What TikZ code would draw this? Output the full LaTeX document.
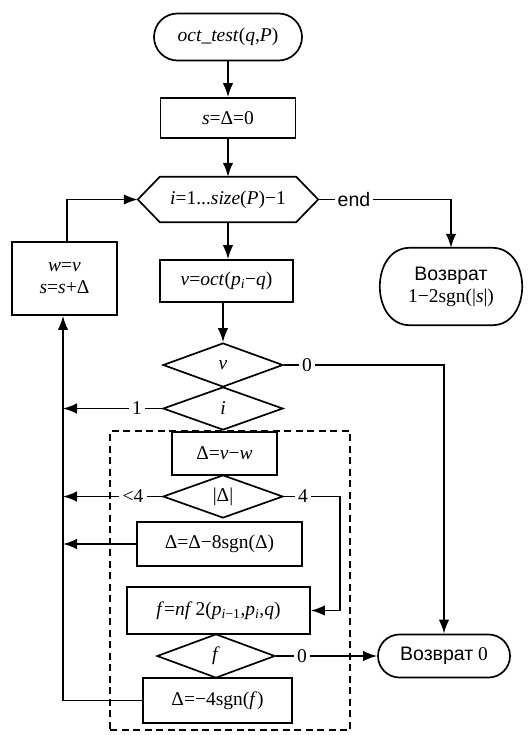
\documentclass[tikz,border=0pt]{standalone}
\usepackage{fontspec}
\setmainfont{Liberation Serif}
\newfontfamily\ruSans{Liberation Sans}
\usetikzlibrary{arrows.meta,shapes.geometric,shapes.misc}

% italic variable names
\newcommand{\vr}[1]{\textit{#1}}

\begin{document}
\begin{tikzpicture}[x=1pt,y=-1pt,
  every node/.style={font=\fontsize{19.5}{22}\selectfont},
  ln/.style={line width=1.7pt},
  arr/.style={ln,-{Latex[length=14pt,width=10.5pt]}},
  blk/.style={draw,ln,rectangle,inner sep=0pt,align=center},
  term/.style={draw,ln,rounded rectangle,inner sep=0pt,align=center},
  cond/.style={draw,ln,diamond,inner sep=0pt,minimum width=120pt,minimum height=44pt},
  lbl/.style={inner sep=3pt},
  grp/.style={draw,line width=1.4pt,dash pattern=on 7pt off 4.5pt,inner sep=0pt}
]
\useasboundingbox (0,0) rectangle (530,735);

% dashed frame around the inner block
\node[grp,minimum width=240pt,minimum height=299pt] (grp) at (230,580.5) {};

% main column
\node[term,minimum width=148pt,minimum height=47pt] (start) at (228,37)
  {\vr{oct\_test}(\vr{q},\vr{P})};
\node[blk,minimum width=135pt,minimum height=40pt] (init) at (228,118)
  {\vr{s}=Δ=0};

% loop header (hexagon)
\node[minimum width=136pt,minimum height=45pt,inner sep=0pt] (loop) at (228,199.5)
  {\vr{i}=1...\vr{size}(\vr{P})−1};
\coordinate (loopL) at ([xshift=-22pt]loop.west);
\coordinate (loopR) at ([xshift=22pt]loop.east);
\draw[ln] (loop.north west) -- (loop.north east) -- (loopR)
  -- (loop.south east) -- (loop.south west) -- (loopL) -- cycle;

\node[blk,minimum width=133pt,minimum height=42pt] (oct) at (226.5,281)
  {\vr{v}=\vr{oct}(\vr{p}\textsubscript{\vr{i}}−\vr{q})};
\node[blk,minimum width=105pt,minimum height=73pt] (upd) at (64.5,278.5)
  {\vr{w}=\vr{v}\\\vr{s}=\vr{s}+Δ};

% return 1-2sgn(|s|), with half-elliptic ends
\node[minimum width=142pt,minimum height=77pt,inner sep=0pt,align=center] (ret1) at (451,286.5)
  {{\ruSans Возврат}\\1−2sgn(|\vr{s}|)};
\draw[ln] ([xshift=30pt]ret1.north west) -- ([xshift=-30pt]ret1.north east)
  .. controls ([xshift=10pt]ret1.north east) and ([xshift=10pt]ret1.south east)
  .. ([xshift=-30pt]ret1.south east) -- ([xshift=30pt]ret1.south west)
  .. controls ([xshift=-10pt]ret1.south west) and ([xshift=-10pt]ret1.north west)
  .. cycle;

\node[cond] (dv) at (223,365) {\vr{v}};
\node[cond,minimum height=43pt] (di) at (223,408.5) {\vr{i}};
\node[blk,minimum width=105pt,minimum height=43pt] (dlt) at (224.5,453.5)
  {Δ=\vr{v}−\vr{w}};
\node[cond,minimum height=43pt] (dabs) at (223,496.5) {|Δ|};
\node[blk,minimum width=165pt,minimum height=44pt] (wrap) at (219.5,544)
  {Δ=Δ−8sgn(Δ)};
\node[blk,minimum width=183pt,minimum height=47pt] (fbox) at (218.5,610.5)
  {\vr{f}=\vr{nf}\,2(\vr{p}\textsubscript{\vr{i}−1},\vr{p}\textsubscript{\vr{i}},\vr{q})};
\node[cond,minimum width=118pt] (df) at (216,656) {\vr{f}};
\node[blk,minimum width=149pt,minimum height=45pt] (half) at (217.5,700.5)
  {Δ=−4sgn(\vr{f})};
\node[term,minimum width=132pt,minimum height=43pt] (ret0) at (444,656)
  {{\ruSans Возврат} 0};

% branch labels
\node[lbl] (lend) at (354,199.5) {\ruSans end};
\node[lbl] (l0a) at (307,365) {0};
\node[lbl] (l1) at (137,408.5) {1};
\node[lbl] (llt) at (133,496.5) {<4};
\node[lbl] (l4) at (303,496.5) {4};
\node[lbl] (l0b) at (302,656) {0};

\coordinate (col) at (63,0);
\coordinate (jog) at (340,0);

% straight flow
\draw[arr] (start.south) -- (init.north);
\draw[arr] (init.south) -- (loop.north);
\draw[arr] (loop.south) -- (loop.south |- oct.north);
\draw[arr] (dv.north |- oct.south) -- (dv.north);

% loop exit
\draw[ln] (loopR) -- (lend.west);
\draw[arr] (lend.east) -| (ret1.north);

% v = 0
\draw[ln] (dv.east) -- (l0a.west);
\draw[arr] (l0a.east) -| (ret0.north);

% back to the loop
\draw[ln] (di.west) -- (l1.east);
\draw[arr] (l1.west) -- (l1.west -| col);
\draw[ln] (dabs.west) -- (llt.east);
\draw[arr] (llt.west) -- (llt.west -| col);
\draw[arr] (wrap.west) -- (wrap.west -| col);
\draw[arr] (half.west) -| ([xshift=-1.5pt]upd.south);
\draw[arr] ([xshift=2.5pt]upd.north) |- (loopL);

% |Delta| = 4
\draw[ln] (dabs.east) -- (l4.west);
\draw[arr] (l4.east) -- (l4.east -| jog) |- (fbox.east);

% f = 0
\draw[ln] (df.east) -- (l0b.west);
\draw[arr] (l0b.east) -- (ret0.west);
\end{tikzpicture}
\end{document}
